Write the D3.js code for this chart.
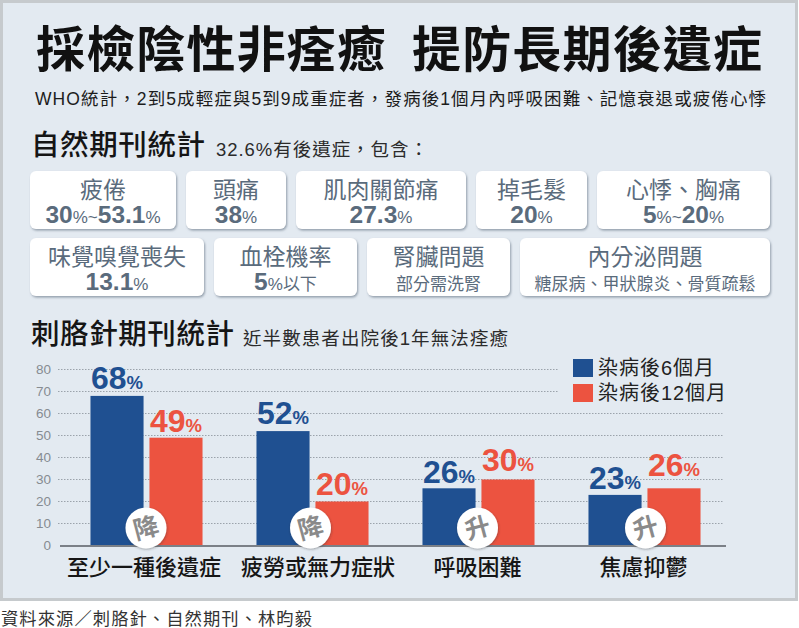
<!DOCTYPE html>
<html>
<head>
<meta charset="utf-8">
<script src="https://cdn.jsdelivr.net/npm/d3@7"></script>
<style>
  html, body { margin: 0; padding: 0; background: #fff; }
  svg { display: block; }
  text { font-family: "Liberation Sans", "Noto Sans CJK TC", sans-serif; }
</style>
</head>
<body>
<div id="chart-container"></div>
<script>
// chart data
const categories = ["至少一種後遺症", "疲勞或無力症狀", "呼吸困難", "焦慮抑鬱"];
const seriesNames = ["染病後6個月", "染病後12個月"];
const after6Months = [68, 52, 26, 23];
const after12Months = [49, 20, 30, 26];
const trendMarks = ["降", "降", "升", "升"];
const yTicks = [0, 10, 20, 30, 40, 50, 60, 70, 80];

// symptom cards
const cardTitles = ["疲倦", "頭痛", "肌肉關節痛", "掉毛髮", "心悸、胸痛", "味覺嗅覺喪失", "血栓機率", "腎臟問題", "內分泌問題"];
const cardValues = ["30%~53.1%", "38%", "27.3%", "20%", "5%~20%", "13.1%", "5%以下", "部分需洗腎", "糖尿病、甲狀腺炎、骨質疏鬆"];

// layout of the cards: [x0, x1] for each row
const cardRows = [
  { y: 171, h: 58, spans: [[30, 176], [186, 286], [296, 466], [476, 587], [597, 770]] },
  { y: 238, h: 58, spans: [[30, 204], [214, 357], [367, 510], [520, 770]] },
];

const width = 799;
const height = 628;
const blue = "#1f5091";
const red = "#ec5340";
const cardInk = "#5a6b7c";

const svg = d3
  .select("#chart-container")
  .append("svg")
  .attr("width", width)
  .attr("height", height);

const defs = svg.append("defs");
const shadow = defs.append("filter").attr("id", "card-shadow").attr("x", "-10%").attr("y", "-10%").attr("width", "120%").attr("height", "125%");
shadow.append("feDropShadow").attr("dx", 1).attr("dy", 1.5).attr("stdDeviation", 0.8).attr("flood-color", "#7d8a99").attr("flood-opacity", 0.8);
const circleShadow = defs.append("filter").attr("id", "circle-shadow").attr("x", "-20%").attr("y", "-20%").attr("width", "140%").attr("height", "140%");
circleShadow.append("feDropShadow").attr("dx", 0.5).attr("dy", 1).attr("stdDeviation", 1.2).attr("flood-color", "#333").attr("flood-opacity", 0.4);

// panel
svg.append("rect")
  .attr("x", 1.5).attr("y", 1.5)
  .attr("width", 795).attr("height", 598)
  .attr("fill", "#e3eaf1")
  .attr("stroke", "#c6cacd")
  .attr("stroke-width", 3);

// headline
const headline = svg.append("g").attr("font-weight", 700).attr("fill", "#111").attr("font-size", 49);
headline.append("text").attr("x", 36).attr("y", 67).attr("textLength", 350).text("採檢陰性非痊癒");
headline.append("text").attr("x", 412).attr("y", 67).attr("textLength", 350).text("提防長期後遺症");

svg.append("text")
  .attr("x", 35).attr("y", 105)
  .attr("font-size", 17.5).attr("fill", "#1c1c1c")
  .attr("textLength", 731)
  .text("WHO統計，2到5成輕症與5到9成重症者，發病後1個月內呼吸困難、記憶衰退或疲倦心悸");

function sectionHeading(y, title, titleLength, note, noteX, noteLength) {
  svg.append("text")
    .attr("x", 31).attr("y", y)
    .attr("font-size", 28.5).attr("font-weight", 500).attr("fill", "#151515")
    .attr("textLength", titleLength)
    .text(title);
  svg.append("text")
    .attr("x", noteX).attr("y", y + 1)
    .attr("font-size", 18.5).attr("fill", "#2b2b2b")
    .attr("textLength", noteLength)
    .text(note);
}
sectionHeading(155, "自然期刊統計", 174, "32.6%有後遺症，包含：", 216, 212);
sectionHeading(344, "刺胳針期刊統計", 203, "近半數患者出院後1年無法痊癒", 243, 265);

// symptom cards
const cardBoxes = cardRows.flatMap((row) => row.spans.map((s) => ({ x0: s[0], x1: s[1], y: row.y, h: row.h })));
const cards = svg.append("g")
  .selectAll("g")
  .data(cardBoxes)
  .enter()
  .append("g")
  .attr("transform", (d) => "translate(" + d.x0 + "," + d.y + ")");

cards.append("rect")
  .attr("width", (d) => d.x1 - d.x0)
  .attr("height", (d) => d.h)
  .attr("rx", 6)
  .attr("fill", "#fff")
  .attr("filter", "url(#card-shadow)");

cards.append("text")
  .attr("x", (d) => (d.x1 - d.x0) / 2)
  .attr("y", 27)
  .attr("text-anchor", "middle")
  .attr("font-size", 23)
  .attr("fill", cardInk)
  .text((d, i) => cardTitles[i]);

// the value line mixes bold numbers with a small % and plain notes
cards.each(function (d, i) {
  const label = d3.select(this).append("text")
    .attr("x", (d.x1 - d.x0) / 2)
    .attr("y", 52)
    .attr("text-anchor", "middle")
    .attr("fill", cardInk);
  const parts = cardValues[i].match(/[0-9.]+|%|~|[^0-9.%~]+/g);
  parts.forEach((p) => {
    const isNumber = /^[0-9.]+$/.test(p);
    label.append("tspan")
      .attr("font-size", isNumber ? 24.5 : 17)
      .attr("font-weight", isNumber ? 700 : 400)
      .text(p);
  });
});

// bar chart
const plot = { left: 60, right: 725, base: 545.5, top: 369.5 };

const xScale = d3.scaleBand()
  .domain(categories)
  .range([63.5, 727.5])
  .paddingInner(0.325)
  .paddingOuter(0.1625);

const xSeries = d3.scaleBand()
  .domain(seriesNames)
  .range([0, xScale.bandwidth()])
  .paddingInner(0.1);

const yScale = d3.scaleLinear().domain([0, 80]).range([plot.base, plot.top]);

// grid lines, the top two stop short of the legend
svg.append("g")
  .selectAll("line")
  .data(yTicks.filter((t) => t > 0))
  .enter()
  .append("line")
  .attr("x1", plot.left - 2)
  .attr("x2", (d) => (d >= 70 ? 558 : 723))
  .attr("y1", (d) => yScale(d))
  .attr("y2", (d) => yScale(d))
  .attr("stroke", "#9ba3ab")
  .attr("stroke-width", 1)
  .attr("stroke-dasharray", "1.5 1.5");

const yAxis = svg.append("g")
  .attr("transform", "translate(" + (plot.left - 9) + ",0)")
  .call(d3.axisLeft(yScale).tickValues(yTicks).tickSize(0).tickPadding(0));
yAxis.select(".domain").remove();
yAxis.selectAll("text")
  .attr("font-size", 13.5)
  .attr("fill", "#868c92")
  .style("font-family", "'Liberation Sans', sans-serif");

const rows = categories.map((c, i) => ({ category: c, values: [after6Months[i], after12Months[i]], mark: trendMarks[i] }));

const groups = svg.append("g")
  .selectAll("g")
  .data(rows)
  .enter()
  .append("g")
  .attr("transform", (d) => "translate(" + xScale(d.category) + ",0)");

groups.selectAll("rect")
  .data((d) => d.values.map((v, i) => ({ name: seriesNames[i], value: v })))
  .enter()
  .append("rect")
  .attr("x", (d) => xSeries(d.name))
  .attr("y", (d) => yScale(d.value))
  .attr("width", xSeries.bandwidth())
  .attr("height", (d) => plot.base - yScale(d.value))
  .attr("fill", (d) => (d.name === seriesNames[0] ? blue : red));

// baseline
svg.append("line")
  .attr("x1", plot.left).attr("x2", plot.right + 1)
  .attr("y1", plot.base + 0.5).attr("y2", plot.base + 0.5)
  .attr("stroke", "#7b8087")
  .attr("stroke-width", 2);

// value labels, wide digits so the glyphs get stretched a bit
const labelGap = [[6.5, 6], [7, 6.5], [5.5, 8.5], [5.5, 12.5]];
rows.forEach((row, r) => {
  row.values.forEach((v, i) => {
    const t = svg.append("text")
      .attr("x", xScale(row.category) + xSeries(seriesNames[i]) + 0.5)
      .attr("y", yScale(v) - labelGap[r][i])
      .attr("textLength", 52)
      .attr("lengthAdjust", "spacingAndGlyphs")
      .attr("fill", i === 0 ? blue : red);
    t.append("tspan").attr("font-size", 31).attr("font-weight", 700).text(v);
    t.append("tspan").attr("font-size", 18).attr("font-weight", 700).text("%");
  });
});

// trend badges
const badgeShift = [-0.5, -2, -1, 1];
const badges = svg.append("g")
  .selectAll("g")
  .data(rows)
  .enter()
  .append("g")
  .attr("transform", (d, i) => "translate(" + (xScale(d.category) + xScale.bandwidth() / 2 + badgeShift[i]) + "," + yScale(8) + ")");

badges.append("circle")
  .attr("r", 20.5)
  .attr("fill", "#fff")
  .attr("filter", "url(#circle-shadow)");

badges.append("text")
  .attr("transform", "rotate(-15)")
  .attr("text-anchor", "middle")
  .attr("dy", "0.36em")
  .attr("font-size", 25)
  .attr("font-weight", 700)
  .attr("fill", "#8a8a8a")
  .text((d) => d.mark);

// category labels
const labelShift = [-2.5, 5.5, -1, -1];
svg.append("g")
  .selectAll("text")
  .data(categories)
  .enter()
  .append("text")
  .attr("x", (d, i) => xScale(d) + xScale.bandwidth() / 2 + labelShift[i])
  .attr("y", 575)
  .attr("text-anchor", "middle")
  .attr("font-size", 22)
  .attr("font-weight", 500)
  .attr("fill", "#161616")
  .text((d) => d);

// legend
const legendLengths = [116, 128];
const legend = svg.append("g")
  .selectAll("g")
  .data(seriesNames)
  .enter()
  .append("g")
  .attr("transform", (d, i) => "translate(573," + (359 + i * 25) + ")");

legend.append("rect")
  .attr("width", 20)
  .attr("height", 18)
  .attr("fill", (d, i) => (i === 0 ? blue : red));

legend.append("text")
  .attr("x", 25)
  .attr("y", 16)
  .attr("font-size", 20)
  .attr("fill", "#222")
  .attr("textLength", (d, i) => legendLengths[i])
  .text((d) => d);

// source line
svg.append("text")
  .attr("x", 1).attr("y", 625)
  .attr("font-size", 17.3).attr("fill", "#333")
  .attr("textLength", 311)
  .text("資料來源／刺胳針、自然期刊、林昀毅");
</script>
</body>
</html>
